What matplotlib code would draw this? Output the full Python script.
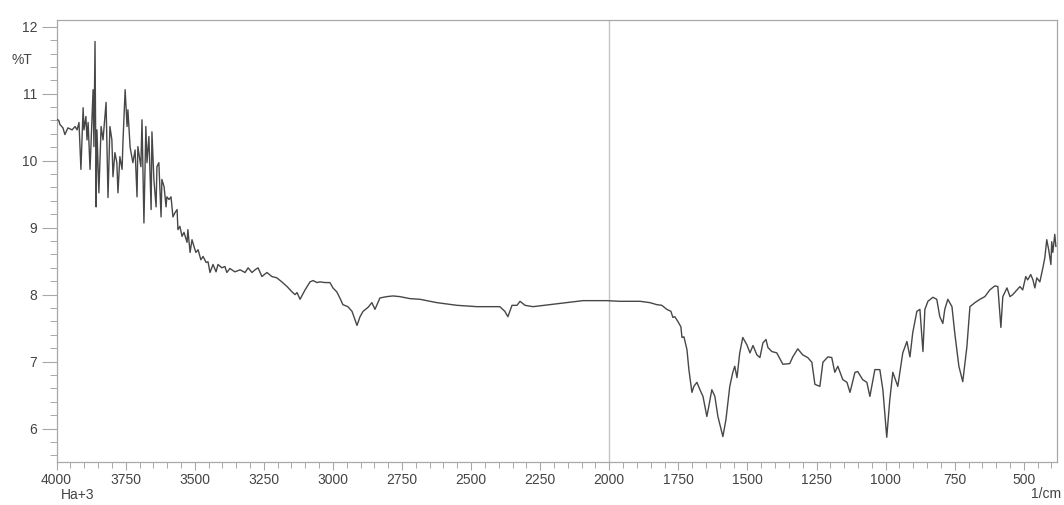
import matplotlib
matplotlib.use("Agg")
import matplotlib.pyplot as plt
from matplotlib.ticker import MultipleLocator
import numpy as np

# ---- data (wavenumber in 1/cm, %T) ----
wn_oh = [4000, 3992, 3988, 3977, 3970, 3959, 3944, 3933, 3926, 3919, 3912, 3904, 3901, 3894,
         3890, 3886, 3879, 3872, 3868, 3865, 3861, 3857, 3854, 3847, 3839, 3832, 3821, 3818,
         3814, 3807, 3800, 3796, 3789, 3782, 3778, 3771, 3763, 3760, 3752, 3745, 3742, 3734,
         3724, 3716, 3709, 3706, 3695, 3691, 3684, 3677, 3673, 3666, 3658, 3655, 3648, 3640,
         3637, 3630, 3622, 3619, 3611, 3604, 3601, 3593, 3586, 3579, 3572, 3564, 3561, 3554,
         3546, 3539, 3528, 3525, 3517, 3510, 3503, 3496, 3488, 3478, 3470, 3459, 3452, 3445,
         3434, 3423, 3416, 3402, 3391, 3384]
t_oh = [10.62, 10.60, 10.54, 10.49, 10.39, 10.49, 10.46, 10.51, 10.46, 10.57, 9.87, 10.79, 10.46, 10.66,
        10.31, 10.57, 9.87, 10.61, 11.06, 10.21, 11.78, 9.31, 10.46, 9.52, 10.51, 10.31, 10.87, 10.27,
        9.45, 10.51, 10.31, 9.76, 10.12, 9.97, 9.52, 10.06, 9.87, 10.27, 11.06, 10.51, 10.76, 10.20,
        9.97, 10.16, 9.46, 10.21, 9.91, 10.61, 9.07, 10.51, 9.97, 10.36, 9.27, 10.43, 9.72, 9.31,
        9.91, 9.97, 9.16, 9.72, 9.61, 9.31, 9.46, 9.42, 9.46, 9.16, 9.22, 9.27, 8.97, 9.02,
        8.87, 8.93, 8.78, 8.97, 8.63, 8.82, 8.72, 8.63, 8.67, 8.52, 8.57, 8.48, 8.49, 8.33,
        8.45, 8.34, 8.45, 8.40, 8.42, 8.33]

wn_mid = [3373, 3355, 3336, 3318, 3307, 3293, 3282, 3271, 3257, 3239, 3221, 3203, 3185, 3166,
          3148, 3137, 3130, 3119, 3101, 3083, 3072, 3058, 3047, 3029, 3011, 3000, 2986, 2975,
          2964, 2946, 2931, 2913, 2902, 2891, 2873, 2859, 2848, 2830, 2805, 2783, 2758, 2721,
          2685, 2624, 2551, 2479, 2396, 2378, 2367, 2352, 2334, 2323, 2305, 2276, 2215, 2153,
          2095, 2045, 2009, 1962, 1889, 1853]
t_mid = [8.39, 8.34, 8.37, 8.33, 8.40, 8.33, 8.37, 8.40, 8.27, 8.33, 8.27, 8.25, 8.19, 8.12,
         8.04, 8.00, 8.03, 7.93, 8.07, 8.19, 8.21, 8.18, 8.19, 8.18, 8.18, 8.10, 8.04, 7.95,
         7.85, 7.82, 7.75, 7.54, 7.67, 7.75, 7.81, 7.88, 7.78, 7.95, 7.97, 7.98, 7.97, 7.94,
         7.93, 7.88, 7.84, 7.82, 7.82, 7.75, 7.67, 7.84, 7.84, 7.90, 7.84, 7.82, 7.85, 7.88,
         7.91, 7.91, 7.91, 7.90, 7.90, 7.88]

wn_fp = [1828, 1810, 1792, 1777, 1770, 1763, 1752, 1741, 1737, 1730, 1719, 1712, 1701, 1694,
         1683, 1672, 1661, 1647, 1640, 1629, 1618, 1607, 1589, 1578, 1564, 1553, 1546, 1538,
         1528, 1517, 1502, 1491, 1480, 1466, 1455, 1444, 1433, 1426, 1412, 1394, 1372, 1347,
         1336, 1318, 1300, 1282, 1267, 1256, 1238, 1227, 1209, 1195, 1184, 1173, 1155, 1140,
         1129, 1111, 1101, 1083, 1068, 1057, 1039, 1021, 1010, 996, 985, 974, 956, 938,
         923, 912, 902, 887, 876, 865, 858, 847, 829, 815, 804, 793, 786, 775,
         760, 750, 735, 721, 706, 695, 677, 659, 641, 623, 605, 594, 583, 576,
         561, 550, 540, 525, 514, 504, 493, 486, 475, 467, 460, 453, 442, 431,
         424, 417, 410, 402, 399, 395, 388, 384]
t_fp = [7.85, 7.84, 7.78, 7.75, 7.66, 7.67, 7.60, 7.52, 7.36, 7.37, 7.18, 6.88, 6.54, 6.63,
        6.69, 6.58, 6.48, 6.18, 6.33, 6.58, 6.48, 6.18, 5.88, 6.13, 6.63, 6.84, 6.93, 6.76,
        7.13, 7.36, 7.25, 7.13, 7.24, 7.10, 7.06, 7.28, 7.33, 7.21, 7.15, 7.13, 6.96, 6.97,
        7.07, 7.19, 7.10, 7.06, 6.99, 6.66, 6.63, 6.99, 7.07, 7.06, 6.84, 6.93, 6.73, 6.69,
        6.54, 6.84, 6.85, 6.73, 6.69, 6.48, 6.88, 6.88, 6.58, 5.87, 6.43, 6.84, 6.63, 7.13,
        7.30, 7.07, 7.43, 7.75, 7.78, 7.15, 7.78, 7.90, 7.96, 7.93, 7.67, 7.57, 7.78, 7.93,
        7.82, 7.43, 6.93, 6.70, 7.22, 7.82, 7.88, 7.93, 7.97, 8.07, 8.13, 8.12, 7.51, 7.97,
        8.10, 7.97, 8.00, 8.07, 8.12, 8.07, 8.27, 8.22, 8.30, 8.22, 8.10, 8.25, 8.19, 8.40,
        8.55, 8.82, 8.67, 8.45, 8.79, 8.63, 8.90, 8.72]

x_major = [4000, 3750, 3500, 3250, 3000, 2750, 2500, 2250, 2000, 1750, 1500, 1250, 1000, 750, 500]
y_major = [6, 7, 8, 9, 10, 11, 12]
marker_wn = 2000

wn = np.array(wn_oh + wn_mid + wn_fp)
t = np.array(t_oh + t_mid + t_fp)

plt.rcParams['font.family'] = ['Liberation Sans', 'DejaVu Sans']

fig = plt.figure(figsize=(10.64, 5.05), dpi=100)
ax = fig.add_axes([0.0532, 0.0851, 0.9402, 0.8752])

spine_col = '#a8a8a8'
ax.axvline(marker_wn, color='#c4c4c4', lw=1.0, zorder=1)
ax.plot(wn, t, color='#474747', lw=1.0, zorder=3)

ax.set_xlim(4000, 380)
ax.set_ylim(5.5, 12.1)

ax.set_xticks(x_major)
ax.set_xticklabels([str(v) for v in x_major])
ax.xaxis.set_minor_locator(MultipleLocator(50))
ax.set_yticks(y_major)
ax.set_yticklabels([str(v) for v in y_major])
ax.yaxis.set_minor_locator(MultipleLocator(0.2))

for s in ax.spines.values():
    s.set_color(spine_col)
    s.set_linewidth(0.9)

ax.tick_params(axis='y', which='major', direction='out', length=11, width=0.8,
               color=spine_col, labelsize=10, labelcolor='#444444', pad=3)
ax.tick_params(axis='y', which='minor', direction='out', length=5, width=0.7, color=spine_col)
ax.tick_params(axis='x', which='major', direction='out', length=6, width=0.8,
               color=spine_col, labelsize=10, labelcolor='#444444', pad=2)
ax.tick_params(axis='x', which='minor', direction='out', length=4, width=0.7, color=spine_col)

fig.text(22 / 1064, 1 - 60 / 505, '%T', ha='center', va='center', fontsize=10, color='#444444')
fig.text(78 / 1064, 1 - 495 / 505, 'Ha+3', ha='center', va='center', fontsize=10, color='#444444')
fig.text(1046 / 1064, 1 - 494 / 505, '1/cm', ha='center', va='center', fontsize=10, color='#444444')

fig.savefig('out.png', dpi=100, facecolor='white')
